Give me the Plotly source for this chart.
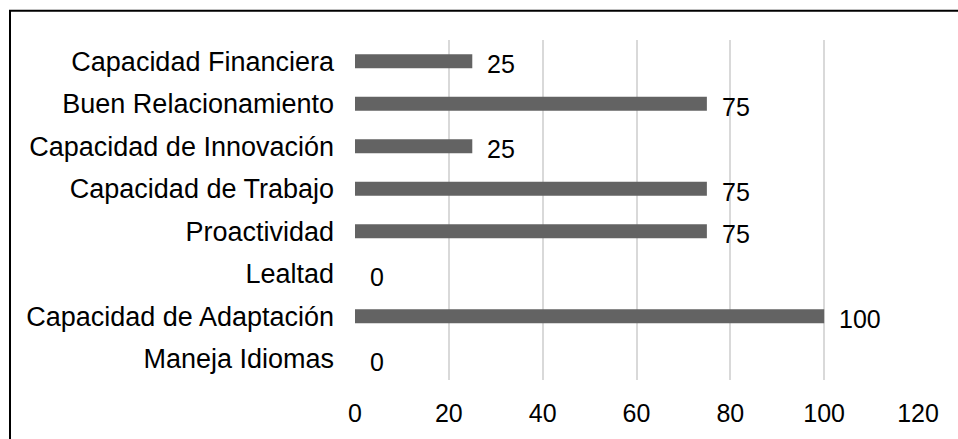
import plotly.graph_objects as go

# categorias de abajo hacia arriba
categorias = ["Maneja Idiomas", "Capacidad de Adaptación", "Lealtad", "Proactividad",
              "Capacidad de Trabajo", "Capacidad de Innovación", "Buen Relacionamiento",
              "Capacidad Financiera"]
valores = [0, 100, 0, 75, 75, 25, 75, 25]
ticks_x = [0, 20, 40, 60, 80, 100, 120]

fig = go.Figure()
fig.add_trace(go.Bar(
    x=valores, y=categorias, orientation="h",
    marker=dict(color="#636363", line=dict(width=0)),
    width=0.33,
))

# etiquetas de datos
for cat, v in zip(categorias, valores):
    fig.add_annotation(x=v, y=cat, text=str(v), showarrow=False,
                       xanchor="left", xshift=13, yshift=-3,
                       font=dict(size=25, color="#000000"))

W, H = 958, 439
L, R, T, B = 355, 40, 40, 57
pw, ph = W - L - R, H - T - B

# marco exterior (sale por la derecha y por abajo)
fig.add_shape(type="rect", xref="paper", yref="paper",
              x0=-(L - 10) / pw, x1=1 + (R + 30) / pw, y0=-(B + 30) / ph, y1=1 + (T - 10.5) / ph,
              line=dict(color="#000000", width=2), fillcolor="rgba(0,0,0,0)")

fig.update_layout(
    width=W, height=H,
    margin=dict(l=L, r=R, t=T, b=B),
    paper_bgcolor="white", plot_bgcolor="white",
    font=dict(family="Liberation Sans, Arial, sans-serif", size=25, color="#000000"),
    showlegend=False,
    bargap=0.67,
)
fig.update_xaxes(range=[0, 120], tickvals=ticks_x, showgrid=True, gridcolor="#d9d9d9",
                 gridwidth=1.5, zeroline=False, showline=False, ticks="",
                 ticklabelstandoff=16)
fig.update_yaxes(showgrid=False, zeroline=False, showline=False, ticks="",
                 tickfont=dict(size=27), ticklabelstandoff=20,
                 categoryorder="array", categoryarray=categorias)

# sin margen en el body para que la figura ocupe toda la ventana
fig.write_html("out.html", config={"displayModeBar": False},
               post_script="document.body.style.margin='0';document.body.style.overflow='hidden';")
